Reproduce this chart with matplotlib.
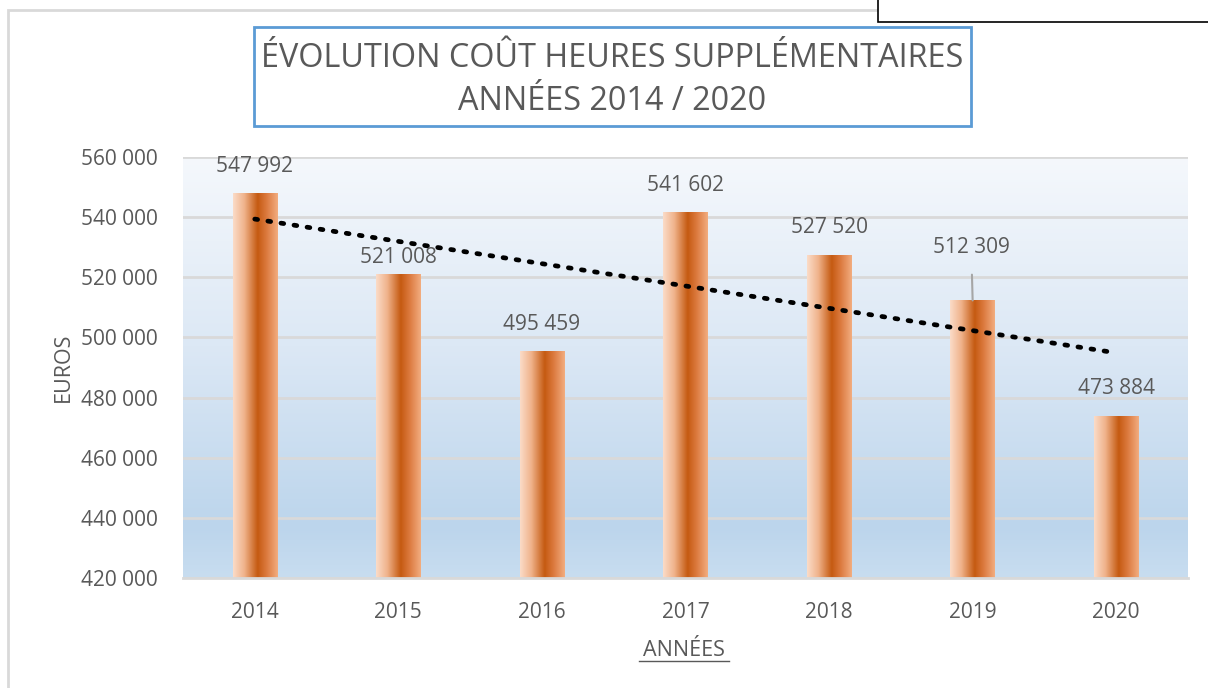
import numpy as np
import matplotlib.pyplot as plt
from matplotlib.colors import LinearSegmentedColormap
from matplotlib.patches import Rectangle
from matplotlib.lines import Line2D

plt.rcParams['font.family'] = ['Open Sans', 'DejaVu Sans']

# data
annees = ['2014', '2015', '2016', '2017', '2018', '2019', '2020']
couts = [547992, 521008, 495459, 541602, 527520, 512309, 473884]
y_ticks = [420000, 440000, 460000, 480000, 500000, 520000, 540000, 560000]

gris = '#595959'

def fmt(v):
    return f'{v:,}'.replace(',', ' ')

fig = plt.figure(figsize=(12.08, 6.88), dpi=100)
ax = fig.add_axes([183/1208, 1-578/688, (1188-183)/1208, (578-157)/688])

x = np.arange(len(annees))
ax.set_xlim(-0.5, len(annees) - 0.5)
ax.set_ylim(420000, 560000)

# background gradient of the plot area
bg = LinearSegmentedColormap.from_list('bg', [(0.0, '#c8ddf0'), (0.12, '#bcd5ec'),
                                              (0.55, '#dce8f5'), (1.0, '#f5f8fc')])
grad = np.linspace(0, 1, 256).reshape(-1, 1)
ax.imshow(grad, cmap=bg, origin='lower', aspect='auto',
          extent=[-0.5, len(annees) - 0.5, 420000, 560000], zorder=0)

# bars with a horizontal gradient
bar_cmap = LinearSegmentedColormap.from_list('bar', [(0.0, '#fbdcc8'), (0.25, '#f0b38c'),
                                                     (0.55, '#c55a11'), (0.75, '#dc7a3f'),
                                                     (1.0, '#f2ad80')])
bars = ax.bar(x, couts, width=0.31, bottom=0, color='none', zorder=2)
hgrad = np.linspace(0, 1, 256).reshape(1, -1)
for b in bars:
    im = ax.imshow(hgrad, cmap=bar_cmap, aspect='auto', zorder=2,
                   extent=[b.get_x(), b.get_x() + b.get_width(), 420000, b.get_height()])
    im.set_clip_path(b)
ax.set_xlim(-0.5, len(annees) - 0.5)
ax.set_ylim(420000, 560000)

# linear trend line
p = np.polyfit(x, couts, 1)
ax.plot(x, np.polyval(p, x), color='black', linestyle=(0, (0.6, 2.2)), linewidth=3.4,
        dash_capstyle='round', zorder=4)

# data labels (2015 moved down a little, 2019 moved up with a leader line)
decal = {'2015': 5600, '2019': 17600}
for i, v in enumerate(couts):
    dy = decal.get(annees[i], 9000)
    if annees[i] == '2019':
        ax.annotate(fmt(v), xy=(i, v), xytext=(i - 0.01, v + dy), ha='center', va='center',
                    fontsize=15, color=gris, zorder=5,
                    arrowprops=dict(arrowstyle='-', color='#a6a6a6', lw=1.5,
                                    shrinkA=10, shrinkB=0))
    else:
        ax.text(i, v + dy, fmt(v), ha='center', va='center', fontsize=15, color=gris, zorder=5)

ax.set_yticks(y_ticks)
ax.set_yticklabels([fmt(t) for t in y_ticks])
ax.set_xticks(x)
ax.set_xticklabels(annees)
ax.tick_params(axis='both', length=0, labelsize=15, labelcolor=gris)
ax.tick_params(axis='y', pad=18)
ax.tick_params(axis='x', pad=17)
ax.set_axisbelow(True)
ax.grid(axis='y', color='#d9d9d9', linewidth=2)
for s in ['top', 'right', 'left']:
    ax.spines[s].set_visible(False)
ax.spines['bottom'].set_color('#d9d9d9')
ax.spines['bottom'].set_linewidth(2)
ax.spines['bottom'].set_zorder(3)

ax.set_ylabel('EUROS', fontsize=15.5, color=gris, labelpad=5)

# x label with underline
fig.text(684/1208, 1-650/688, 'ANNÉES', ha='center', va='center', fontsize=15.5, color=gris)
fig.add_artist(Line2D([639/1208, 729/1208], [1-661/688, 1-661/688], color=gris, linewidth=1))

# title box
fig.add_artist(Rectangle((254/1208, 1-126/688), (971-254)/1208, (126-27)/688,
                         transform=fig.transFigure, facecolor='white',
                         edgecolor='#5b9bd5', linewidth=2))
fig.text(612/1208, 1-80/688, 'ÉVOLUTION COÛT HEURES SUPPLÉMENTAIRES\nANNÉES 2014 / 2020',
         ha='center', va='center', fontsize=23.3, color=gris, linespacing=1.4)

# outer chart frame and the box cut off at the top right
fig.add_artist(Rectangle((8/1208, -0.1), 1.2, 1.1 - 10/688, transform=fig.transFigure,
                         facecolor='none', edgecolor='#d9d9d9', linewidth=2))
fig.add_artist(Rectangle((878/1208, 1-22/688), 0.3, 0.1, transform=fig.transFigure,
                         facecolor='white', edgecolor='black', linewidth=1.2))

fig.savefig('out.png', dpi=100)
